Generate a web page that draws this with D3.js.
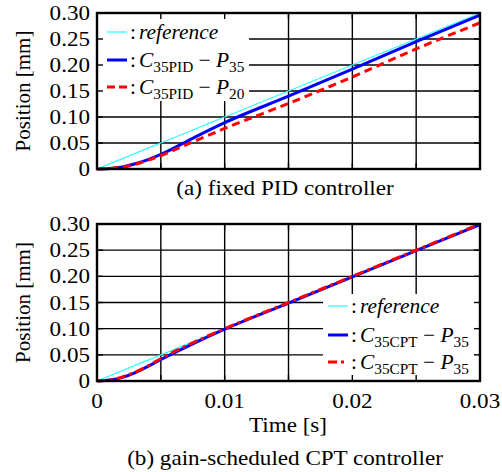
<!DOCTYPE html>
<html>
<head>
<meta charset="utf-8">
<script src="https://cdn.jsdelivr.net/npm/d3@7"></script>
<style>
  body { margin: 0; background: #fff; }
  text { font-family: "Liberation Serif", "Times New Roman", Times, serif; fill: #000; }
</style>
</head>
<body>
<svg id="chart" width="502" height="472"></svg>
<script>
// time samples [s]
var time = [0, 0.001, 0.002, 0.003, 0.004, 0.005, 0.0075, 0.01, 0.015, 0.02, 0.025, 0.03];
var reference = [0, 0.01, 0.02, 0.03, 0.04, 0.05, 0.075, 0.10, 0.15, 0.20, 0.25, 0.30];
// (a) fixed PID
var pidP35 = [0, 0.001, 0.004, 0.010, 0.018, 0.028, 0.059, 0.089, 0.140, 0.192, 0.245, 0.296];
var pidP20 = [0, 0.001, 0.004, 0.009, 0.017, 0.026, 0.052, 0.078, 0.126, 0.177, 0.231, 0.281];
// (b) gain-scheduled CPT
var cptBlue = [0, 0.002, 0.007, 0.016, 0.028, 0.041, 0.071, 0.099, 0.149, 0.199, 0.249, 0.299];
var cptRed = [0, 0.002, 0.008, 0.017, 0.029, 0.043, 0.073, 0.100, 0.150, 0.200, 0.250, 0.300];

var yTicks = [0, 0.05, 0.10, 0.15, 0.20, 0.25, 0.30];
var yTickLabels = ["0", "0.05", "0.10", "0.15", "0.20", "0.25", "0.30"];
var xGrid = [0, 0.005, 0.01, 0.015, 0.02, 0.025, 0.03];
var xTicks = [0, 0.01, 0.02, 0.03];
var xTickLabels = ["0", "0.01", "0.02", "0.03"];

var svg = d3.select("#chart");
var fs = 21;

var x = d3.scaleLinear().domain([0, 0.03]).range([97, 480]);

// horizontal text, slightly stretched (the original is wider than plain Times)
function label(g, px, py, anchor, str, stretch) {
  return g.append("text")
    .attr("transform", "translate(" + px + "," + py + ") scale(" + (stretch || 1.1) + ",1)")
    .attr("text-anchor", anchor)
    .style("font-size", fs + "px")
    .text(str);
}

function panel(top, bottom, series, legend, legendBox, caption, showX) {
  var y = d3.scaleLinear().domain([0, 0.30]).range([bottom, top]);
  var g = svg.append("g");

  // grid
  g.selectAll(".gx").data(xGrid).enter().append("line")
    .attr("x1", function(d) { return x(d); }).attr("x2", function(d) { return x(d); })
    .attr("y1", top).attr("y2", bottom)
    .attr("stroke", "#000").attr("stroke-width", 1.4);
  g.selectAll(".gy").data(yTicks).enter().append("line")
    .attr("x1", x(0)).attr("x2", x(0.03))
    .attr("y1", function(d) { return y(d); }).attr("y2", function(d) { return y(d); })
    .attr("stroke", "#000").attr("stroke-width", 1.4);

  var line = d3.line()
    .curve(d3.curveMonotoneX)
    .x(function(d) { return x(d[0]); })
    .y(function(d) { return y(d[1]); });

  series.forEach(function(s) {
    g.append("path")
      .datum(time.map(function(t, i) { return [t, s.values[i]]; }))
      .attr("fill", "none")
      .attr("stroke", s.color)
      .attr("stroke-width", s.width)
      .attr("stroke-dasharray", s.dash || null)
      .attr("d", line);
  });

  // legend box
  g.append("rect")
    .attr("x", legendBox.x).attr("y", legendBox.y)
    .attr("width", legendBox.w).attr("height", legendBox.h)
    .attr("fill", "#fff");

  legend.forEach(function(l, i) {
    var ly = legendBox.rowY[i];
    var s = series[i];
    g.append("line")
      .attr("x1", legendBox.lx).attr("x2", legendBox.lx + 20)
      .attr("y1", ly).attr("y2", ly)
      .attr("stroke", s.color).attr("stroke-width", s.width)
      .attr("stroke-dasharray", s.dash ? s.legendDash : null);
    var t = label(g, legendBox.lx + 23, ly + 7, "start", null, 1.02);
    t.append("tspan").text(":");
    l.forEach(function(p, j) {
      var ts = t.append("tspan").text(p.t);
      if (j == 0) ts.attr("dx", 3);
      if (p.it) ts.style("font-style", "italic");
      if (p.sub) ts.style("font-size", "15px").attr("dy", 5);
      if (p.up) ts.attr("dy", -5);
    });
  });

  // inward ticks on all sides
  var tl = 6;
  yTicks.forEach(function(d) {
    g.append("line").attr("x1", x(0)).attr("x2", x(0) + tl)
      .attr("y1", y(d)).attr("y2", y(d)).attr("stroke", "#000").attr("stroke-width", 1.4);
    g.append("line").attr("x1", x(0.03)).attr("x2", x(0.03) - tl)
      .attr("y1", y(d)).attr("y2", y(d)).attr("stroke", "#000").attr("stroke-width", 1.4);
  });
  xGrid.forEach(function(d) {
    g.append("line").attr("x1", x(d)).attr("x2", x(d))
      .attr("y1", bottom).attr("y2", bottom - tl).attr("stroke", "#000").attr("stroke-width", 1.4);
    g.append("line").attr("x1", x(d)).attr("x2", x(d))
      .attr("y1", top).attr("y2", top + tl).attr("stroke", "#000").attr("stroke-width", 1.4);
  });

  // frame
  g.append("rect")
    .attr("x", x(0)).attr("y", top)
    .attr("width", x(0.03) - x(0)).attr("height", bottom - top)
    .attr("fill", "none").attr("stroke", "#000").attr("stroke-width", 2.4);

  // y tick labels
  yTicks.forEach(function(d, i) {
    label(g, 90, y(d) + 7, "end", yTickLabels[i]);
  });

  g.append("text")
    .attr("transform", "translate(30," + ((top + bottom) / 2) + ") rotate(-90)")
    .attr("text-anchor", "middle")
    .style("font-size", fs + "px")
    .text("Position [mm]");

  if (showX) {
    xTicks.forEach(function(d, i) {
      label(g, x(d), bottom + 27, "middle", xTickLabels[i]);
    });
    label(g, 288, bottom + 51, "middle", "Time [s]");
  }

  label(g, 285, caption.y, "middle", caption.text);
}

panel(13, 169,
  [
    { values: reference, color: "#33ffff", width: 1.3 },
    { values: pidP35, color: "#0000ff", width: 3 },
    { values: pidP20, color: "#ff0000", width: 3, dash: "8,5", legendDash: "8,4" }
  ],
  [
    [{ t: "reference", it: true }],
    [{ t: "C", it: true }, { t: "35PID", sub: true }, { t: " \u2212 ", up: true }, { t: "P", it: true }, { t: "35", sub: true }],
    [{ t: "C", it: true }, { t: "35PID", sub: true }, { t: " \u2212 ", up: true }, { t: "P", it: true }, { t: "20", sub: true }]
  ],
  { x: 97, y: 13, w: 152, h: 88, lx: 107, rowY: [32, 60, 87] },
  { text: "(a) fixed PID controller", y: 195 },
  false);

panel(224, 381,
  [
    { values: reference, color: "#33ffff", width: 1.3 },
    { values: cptBlue, color: "#0000ff", width: 3 },
    { values: cptRed, color: "#ff0000", width: 3, dash: "9,4,3,4", legendDash: "9,4,3,4" }
  ],
  [
    [{ t: "reference", it: true }],
    [{ t: "C", it: true }, { t: "35CPT", sub: true }, { t: " \u2212 ", up: true }, { t: "P", it: true }, { t: "35", sub: true }],
    [{ t: "C", it: true }, { t: "35CPT", sub: true }, { t: " \u2212 ", up: true }, { t: "P", it: true }, { t: "35", sub: true }]
  ],
  { x: 323, y: 294, w: 157, h: 87, lx: 328, rowY: [306, 335, 362] },
  { text: "(b) gain-scheduled CPT controller", y: 465 },
  true);
</script>
</body>
</html>
